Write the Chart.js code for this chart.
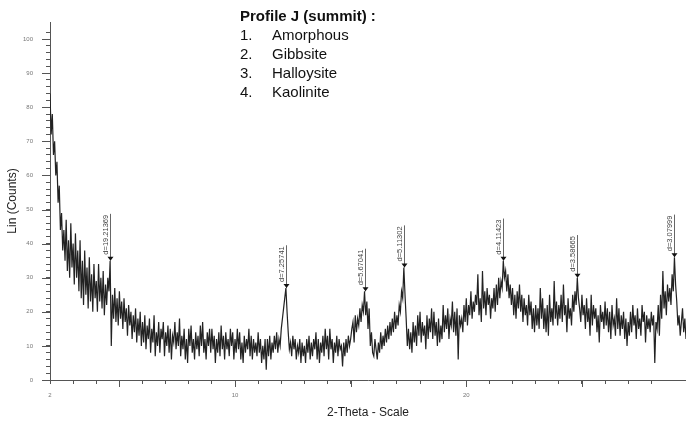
<!DOCTYPE html>
<html>
<head>
<meta charset="utf-8">
<script src="https://cdn.jsdelivr.net/npm/chart.js@4.4.1/dist/chart.umd.min.js"></script>
<style>
  html, body { margin: 0; padding: 0; background: #fff; }
  #wrap { width: 686px; height: 425px; }
</style>
</head>
<body>
<div id="wrap"><canvas id="xrdChart" width="686" height="425"></canvas></div>
<script>
// scan start / step in 2-theta (deg)
const startTheta = 2;
const stepTheta = 0.05;

// Lin (Counts), one row per degree (20 readings)
const counts = [
  84, 72, 78, 66, 70, 60, 64, 52, 57, 44, 49, 38, 44, 35, 47, 32, 41, 30, 46, 33,
  40, 28, 43, 30, 38, 26, 41, 24, 35, 22, 38, 25, 33, 21, 36, 23, 31, 20, 34, 24,
  29, 20, 34, 23, 30, 21, 32, 19, 28, 22, 30, 26, 35, 10, 25, 18, 27, 17, 24, 16,
  26, 18, 23, 15, 24, 17, 21, 13, 22, 16, 20, 12, 19, 14, 21, 11, 18, 13, 20, 10,
  17, 11, 19, 9, 16, 12, 18, 8, 15, 11, 19, 7, 14, 10, 17, 8, 15, 12, 17, 7,
  14, 10, 16, 8, 15, 6, 13, 11, 17, 9, 14, 10, 18, 7, 13, 9, 15, 6, 12, 5,
  15, 10, 16, 8, 12, 6, 14, 9, 13, 7, 16, 10, 17, 8, 12, 6, 14, 10, 15, 8,
  15, 9, 13, 5, 12, 8, 14, 7, 16, 9, 13, 6, 14, 9, 12, 7, 15, 10, 14, 6,
  12, 8, 15, 9, 14, 6, 11, 5, 13, 8, 12, 9, 15, 7, 13, 6, 12, 8, 11, 7,
  14, 8, 12, 5, 10, 6, 12, 3, 12, 7, 13, 6, 11, 8, 13, 9, 14, 8, 12, 10,
  15, 18, 21, 24, 27, 20, 14, 9, 11, 7, 13, 9, 12, 6, 10, 8, 12, 5, 11, 7,
  10, 5, 12, 8, 13, 6, 11, 7, 12, 9, 14, 6, 12, 5, 11, 8, 13, 7, 15, 9,
  13, 6, 15, 9, 12, 5, 11, 8, 13, 7, 12, 9, 10, 4, 11, 7, 12, 8, 13, 10,
  12, 15, 17, 11, 19, 14, 18, 16, 21, 17, 22, 20, 26, 19, 23, 15, 21, 10, 14, 8,
  7, 12, 9, 6, 11, 8, 14, 9, 13, 10, 15, 11, 16, 12, 17, 13, 18, 14, 20, 15,
  19, 16, 22, 20, 26, 24, 33, 25, 18, 10, 15, 9, 14, 8, 17, 11, 16, 10, 19, 13,
  20, 11, 17, 13, 16, 9, 19, 12, 18, 14, 21, 12, 20, 13, 17, 10, 18, 11, 16, 12,
  22, 14, 19, 15, 21, 12, 18, 16, 23, 14, 20, 13, 21, 6, 19, 16, 18, 14, 22, 17,
  24, 16, 22, 19, 26, 18, 23, 20, 25, 22, 31, 19, 24, 17, 32, 21, 26, 19, 27, 22,
  25, 18, 24, 21, 27, 20, 28, 22, 30, 24, 29, 27, 35, 30, 32, 26, 31, 24, 28, 22,
  27, 19, 25, 18, 26, 21, 28, 20, 25, 17, 24, 19, 22, 16, 25, 19, 23, 15, 21, 14,
  22, 16, 21, 15, 27, 18, 24, 15, 21, 14, 22, 13, 25, 17, 21, 16, 29, 18, 23, 16,
  22, 18, 25, 17, 28, 19, 22, 14, 24, 18, 21, 16, 25, 20, 26, 22, 30, 24, 21, 17,
  25, 19, 22, 15, 24, 17, 21, 13, 25, 16, 22, 18, 21, 14, 19, 11, 22, 17, 20, 15,
  23, 16, 21, 14, 20, 12, 22, 16, 18, 13, 24, 15, 21, 13, 19, 15, 20, 12, 18, 10,
  17, 13, 20, 14, 22, 16, 19, 12, 21, 15, 18, 13, 22, 17, 20, 11, 19, 15, 18, 14,
  20, 16, 19, 5, 17, 15, 22, 13, 25, 18, 32, 21, 26, 19, 28, 23, 27, 22, 31, 26,
  36, 28, 23, 16, 19, 13, 17, 21, 14, 18, 12
];

// peak markers
const peakTheta = [4.6, 12.2, 15.6, 17.3, 21.6, 24.8, 29.0];
const peakCounts = [35, 27, 26, 33, 35, 30, 36];
const peakLabels = ["d=19.21369", "d=7.25741", "d=5.67041", "d=5.11302", "d=4.11423", "d=3.58665", "d=3.07999"];

const xLabelTicks = [2, 10, 20];
const legendTitle = "Profile J (summit) :";
const legendItems = ["Amorphous", "Gibbsite", "Halloysite", "Kaolinite"];

const fontFam = '"Liberation Sans", Arial, sans-serif';

let points = counts.map((c, i) => ({ x: +(startTheta + i * stepTheta).toFixed(2), y: c }));

const isInt = (v) => Math.abs(v - Math.round(v)) < 1e-6;

const extras = {
  id: "extras",
  afterDatasetsDraw(chart) {
    const { ctx, chartArea, scales: { x, y } } = chart;
    ctx.save();

    // longer major ticks
    ctx.strokeStyle = "#555";
    ctx.lineWidth = 1;
    ctx.beginPath();
    y.ticks.forEach((t) => {
      if (t.value % 10 === 0) {
        const py = Math.round(y.getPixelForValue(t.value)) + 0.5;
        ctx.moveTo(chartArea.left - 8, py);
        ctx.lineTo(chartArea.left, py);
      }
    });
    x.ticks.forEach((t) => {
      if (t.value % 5 === 0) {
        const px = Math.round(x.getPixelForValue(t.value)) + 0.5;
        ctx.moveTo(px, chartArea.bottom);
        ctx.lineTo(px, chartArea.bottom + 7);
      }
    });
    ctx.stroke();

    // peak markers
    ctx.font = "7.5px " + fontFam;
    peakTheta.forEach((t, i) => {
      const px = Math.round(x.getPixelForValue(t)) + 0.5;
      const tip = y.getPixelForValue(peakCounts[i]);
      const w = ctx.measureText(peakLabels[i]).width;
      const top = tip - 6 - w - 1;
      ctx.strokeStyle = "#666";
      ctx.beginPath();
      ctx.moveTo(px, top);
      ctx.lineTo(px, tip);
      ctx.stroke();
      ctx.fillStyle = "#111";
      ctx.beginPath();
      ctx.moveTo(px - 3, tip - 4);
      ctx.lineTo(px + 3, tip - 4);
      ctx.lineTo(px, tip);
      ctx.closePath();
      ctx.fill();
      ctx.save();
      ctx.translate(px - 1, tip - 6);
      ctx.rotate(-Math.PI / 2);
      ctx.textAlign = "left";
      ctx.textBaseline = "bottom";
      ctx.fillStyle = "#444";
      ctx.fillText(peakLabels[i], 0, 0);
      ctx.restore();
    });

    // phase list
    ctx.fillStyle = "#111";
    ctx.textBaseline = "middle";
    ctx.textAlign = "left";
    ctx.font = "bold 15px " + fontFam;
    ctx.fillText(legendTitle, 240, 17);
    ctx.font = "15px " + fontFam;
    legendItems.forEach((name, i) => {
      const ly = 36 + i * 19;
      ctx.fillText((i + 1) + ".", 240, ly);
      ctx.fillText(name, 272, ly);
    });
    ctx.restore();
  },
};

new Chart(document.getElementById("xrdChart"), {
  type: "line",
  data: {
    datasets: [
      {
        data: points,
        borderColor: "#222222",
        borderWidth: 1.2,
        pointRadius: 0,
        tension: 0,
        fill: false,
      },
    ],
  },
  options: {
    responsive: false,
    devicePixelRatio: 1,
    animation: false,
    layout: { padding: { top: 22, right: 0, left: 0, bottom: 0 } },
    plugins: { legend: { display: false }, tooltip: { enabled: false } },
    scales: {
      x: {
        type: "linear",
        min: 2,
        max: 29.5,
        afterBuildTicks: (s) => {
          s.ticks = s.ticks.filter((t) => isInt(t.value));
        },
        afterFit: (s) => {
          s.height = 45;
        },
        ticks: {
          stepSize: 1,
          autoSkip: false,
          maxRotation: 0,
          padding: 8,
          color: "#777",
          font: { size: 6, family: fontFam },
          callback: (v) => (xLabelTicks.includes(v) ? String(v) : ""),
        },
        grid: { drawOnChartArea: false, tickLength: 4, tickColor: "#555" },
        border: { color: "#555", width: 1 },
        title: {
          display: true,
          text: "2-Theta - Scale",
          color: "#222",
          font: { size: 12, family: fontFam },
          padding: { top: 0, bottom: 5 },
        },
      },
      y: {
        min: 0,
        max: 105,
        afterBuildTicks: (s) => {
          s.ticks = s.ticks.filter((t) => isInt(t.value) && t.value % 2 === 0);
        },
        afterFit: (s) => {
          s.width = 50;
        },
        ticks: {
          stepSize: 2,
          autoSkip: false,
          padding: 13,
          color: "#777",
          font: { size: 6, family: fontFam },
          callback: (v) => (v % 10 === 0 ? String(v) : ""),
        },
        grid: { drawOnChartArea: false, tickLength: 4, tickColor: "#555" },
        border: { color: "#555", width: 1 },
        title: {
          display: true,
          text: "Lin (Counts)",
          color: "#222",
          font: { size: 12, family: fontFam },
          padding: { top: 5, bottom: 0 },
        },
      },
    },
  },
  plugins: [extras],
});
</script>
</body>
</html>
